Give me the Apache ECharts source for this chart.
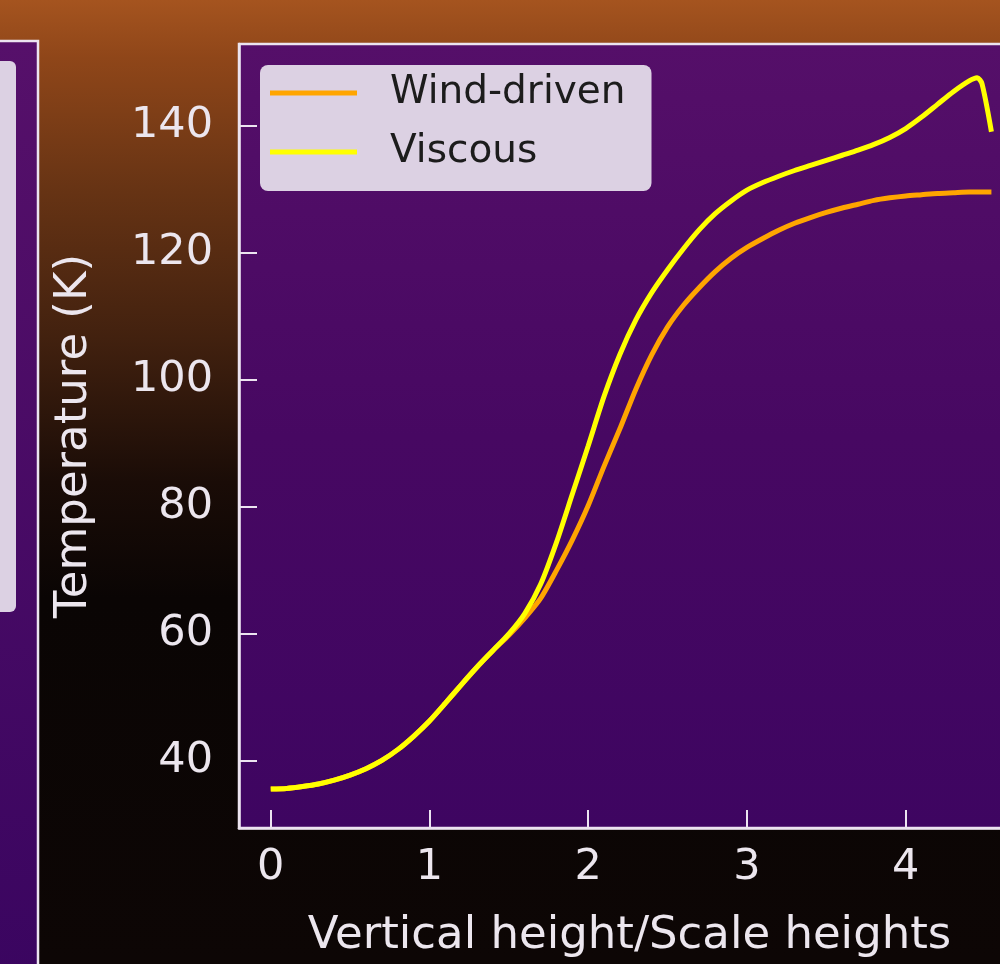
<!DOCTYPE html>
<html>
<head>
<meta charset="utf-8">
<title>Temperature profile</title>
<script src="https://cdn.jsdelivr.net/npm/echarts@6/dist/echarts.min.js"></script>
<style>
  html, body { margin: 0; padding: 0; background: #0b0505; overflow: hidden; width: 1000px; height: 964px; }
  /* a bit wider than the window: the right side of the plot is cut off in the figure */
  #chart { width: 1020px; height: 964px; }
</style>
</head>
<body>
<div id="chart"></div>
<script>
// data
const heights = [0, 0.1, 0.2, 0.3, 0.4, 0.5, 0.6, 0.7, 0.8, 0.9,
  1.0, 1.1, 1.2, 1.3, 1.4, 1.5, 1.6, 1.7, 1.8, 1.9,
  2.0, 2.1, 2.2, 2.3, 2.4, 2.5, 2.6, 2.7, 2.8, 2.9,
  3.0, 3.1, 3.2, 3.3, 3.4, 3.5, 3.6, 3.7, 3.8, 3.9,
  4.0, 4.1, 4.2, 4.3, 4.4, 4.45, 4.48, 4.54]

const windDriven = [35.6, 35.7, 36.0, 36.4, 37.0, 37.8, 38.8, 40.1, 41.8, 43.9,
  46.3, 49.1, 52.0, 54.8, 57.4, 59.8, 62.5, 65.6, 70.0, 74.8,
  80.2, 86.4, 92.3, 98.5, 103.9, 108.3, 111.7, 114.5, 117.0, 119.1,
  120.8, 122.2, 123.5, 124.6, 125.5, 126.3, 127.0, 127.6, 128.2, 128.6,
  128.9, 129.1, 129.3, 129.4, 129.5, 129.5, 129.5, 129.5]

const viscous = [35.6, 35.7, 36.0, 36.4, 37.0, 37.8, 38.8, 40.1, 41.8, 43.9,
  46.3, 49.1, 52.0, 54.8, 57.4, 60.0, 63.2, 67.8, 74.4, 82.0,
  89.6, 97.4, 104.0, 109.4, 113.7, 117.3, 120.6, 123.6, 126.1, 128.1,
  129.8, 131.0, 132.0, 132.9, 133.7, 134.5, 135.3, 136.1, 137.0, 138.1,
  139.5, 141.3, 143.3, 145.3, 147.0, 147.5, 146.6, 139.0]

const xTicks = [0, 1, 2, 3, 4]
const yTicks = [40, 60, 80, 100, 120, 140]

const toPairs = (ys) => heights.map((x, i) => [x, ys[i]])

const chart = echarts.init(document.getElementById('chart'), null, { renderer: 'canvas' })

const txt = '#ece6ee'
const frame = '#ece4f0'
const font = 'DejaVu Sans'

const option = {
  animation: false,
  backgroundColor: new echarts.graphic.LinearGradient(0, 0, 0, 1, [
    { offset: 0, color: '#a5541f' },
    { offset: 0.06, color: '#8f4619' },
    { offset: 0.2, color: '#663314' },
    { offset: 0.35, color: '#42210f' },
    { offset: 0.5, color: '#1a0c07' },
    { offset: 0.62, color: '#0a0504' },
    { offset: 1, color: '#0d0605' }
  ]),
  // neighbouring panel peeking in from the left
  graphic: [
    {
      type: 'rect', z: 0,
      shape: { x: -10, y: 41, width: 48, height: 940 },
      style: {
        fill: new echarts.graphic.LinearGradient(0, 0, 0, 1, [
          { offset: 0, color: '#56106a' },
          { offset: 1, color: '#3a0560' }
        ]),
        stroke: frame, lineWidth: 2.5
      }
    },
    {
      type: 'rect', z: 1,
      shape: { x: -10, y: 61, width: 26, height: 551, r: 6 },
      style: { fill: '#dcd1e3' }
    }
  ],
  grid: {
    left: 239,
    top: 44,
    right: 0,
    bottom: 136,
    show: true,
    backgroundColor: new echarts.graphic.LinearGradient(0, 0, 0, 1, [
      { offset: 0, color: '#550f69' },
      { offset: 0.5, color: '#470862' },
      { offset: 1, color: '#3e0561' }
    ]),
    borderColor: frame,
    borderWidth: 2.5
  },
  legend: {
    left: 260,
    top: 65,
    orient: 'vertical',
    icon: 'rect',
    itemWidth: 87,
    itemHeight: 5,
    itemGap: 19,
    padding: [8, 26, 19, 10],
    backgroundColor: '#dcd1e3',
    borderRadius: 8,
    textStyle: {
      fontFamily: font,
      fontSize: 39,
      color: '#1c1c1c',
      lineHeight: 40,
      padding: [0, 0, 0, 28]
    },
    data: ['Wind-driven', 'Viscous']
  },
  xAxis: {
    type: 'value',
    min: -0.2,
    max: 4.72,
    minInterval: 1,
    maxInterval: 1,
    name: 'Vertical height/Scale heights',
    nameLocation: 'middle',
    nameGap: 86,
    nameTextStyle: { fontFamily: font, fontSize: 45, color: txt },
    axisLine: { show: true, onZero: false, lineStyle: { color: frame, width: 2.5 } },
    axisTick: { show: true, inside: true, length: 18, lineStyle: { color: frame, width: 2 } },
    axisLabel: {
      fontFamily: font, fontSize: 43, color: txt, margin: 18,
      showMinLabel: false, showMaxLabel: false,
      formatter: (v) => xTicks.includes(v) ? String(v) : ''
    },
    splitLine: { show: false }
  },
  yAxis: {
    type: 'value',
    min: 29.47,
    max: 152.8,
    minInterval: 20,
    maxInterval: 20,
    name: 'Temperature (K)',
    nameLocation: 'middle',
    nameGap: 142,
    nameTextStyle: { fontFamily: font, fontSize: 45, color: txt },
    axisLine: { show: true, onZero: false, lineStyle: { color: frame, width: 2.5 } },
    axisTick: { show: true, inside: true, length: 18, lineStyle: { color: frame, width: 2 } },
    axisLabel: {
      fontFamily: font, fontSize: 43, color: txt, margin: 26,
      showMinLabel: false, showMaxLabel: false,
      formatter: (v) => yTicks.includes(v) ? String(v) : ''
    },
    splitLine: { show: false }
  },
  series: [
    {
      name: 'Wind-driven',
      type: 'line',
      data: toPairs(windDriven),
      showSymbol: false,
      symbol: 'none',
      smooth: 0.25,
      color: '#ffa500',
      lineStyle: { color: '#ffa500', width: 5 }
    },
    {
      name: 'Viscous',
      type: 'line',
      data: toPairs(viscous),
      showSymbol: false,
      symbol: 'none',
      smooth: 0.25,
      color: '#ffff00',
      lineStyle: { color: '#ffff00', width: 5 }
    }
  ]
}

chart.setOption(option)
</script>
</body>
</html>
